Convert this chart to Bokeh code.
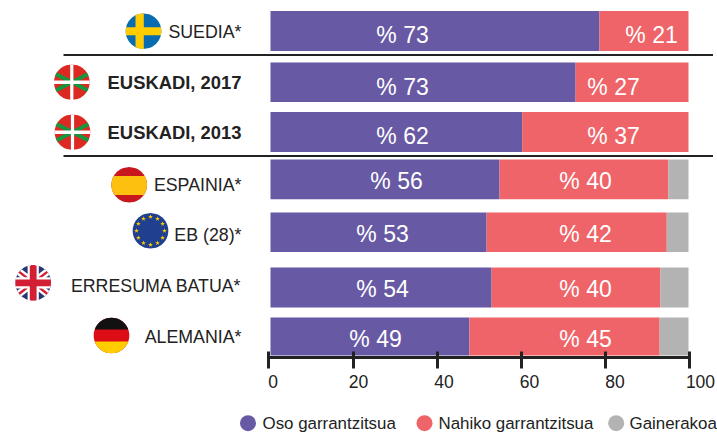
import numpy as np
from bokeh.plotting import figure
from bokeh.models import Range1d, LinearAxis, ColumnDataSource, FixedTicker
from bokeh.core.properties import value
from bokeh.embed import file_html
from bokeh.resources import INLINE

# ---- data
countries = ["SUEDIA*", "EUSKADI, 2017", "EUSKADI, 2013", "ESPAINIA*", "EB (28)*", "ERRESUMA BATUA*", "ALEMANIA*"]
oso = [78.7, 73.0, 60.2, 54.8, 51.7, 52.9, 47.6]
nahiko = [21.3, 27.0, 39.8, 40.4, 43.1, 40.4, 45.5]
gainerakoa = [0, 0, 0, 4.8, 5.2, 6.7, 6.9]
oso_labels = [73, 73, 62, 56, 53, 54, 49]
nahiko_labels = [21, 27, 37, 40, 42, 40, 45]
series_names = ["Oso garrantzitsua", "Nahiko garrantzitsua", "Gainerakoa"]
ticks = [0, 20, 40, 60, 80, 100]

# ---- style / layout (page pixels)
PURPLE, RED, GREY = "#6759A3", "#EE6468", "#B3B3B3"
INK = "#222222"
FONT = value("Liberation Sans")
W, H = 717, 433
O = 0
row_top = [10.5, 62, 111.5, 159, 212, 267, 317]
row_bot = [50.5, 101.5, 151.5, 198.7, 251.5, 307, 355]
label_y = [31, 82, 132, 184, 234, 285, 336]
oso_x = [402, 402, 402, 396, 382, 382, 375]
nah_x = [651, 613, 613, 585, 585, 585, 585]
val_y = [34, 86, 135, 180, 233, 288, 338]

p = figure(width=W, height=H, output_backend="svg", toolbar_location=None,
           x_range=Range1d(O, O + W), y_range=Range1d(O + H, O),
           x_axis_type=None, y_axis_type=None, min_border=0,
           outline_line_color=None, background_fill_color="white")
p.grid.visible = False

def to_range(px0, v0, px1, v1):
    s = (v1 - v0) / (px1 - px0)
    return Range1d(v0 + (O - px0) * s, v0 + (O + W - px0) * s)

p.extra_x_ranges = {
    "bars": to_range(270, 0, 688, 100),
    "axis": to_range(268.4, 0, 689.4, 100),
    "axislabels": to_range(272.5, 0, 700, 100),
}

# ---- bars
y_c = [(a + b) / 2 for a, b in zip(row_top, row_bot)]
h = [b - a for a, b in zip(row_top, row_bot)]
left = np.zeros(7)
for vals, col in zip((oso, nahiko, gainerakoa), (PURPLE, RED, GREY)):
    right = left + np.array(vals)
    src = ColumnDataSource(dict(y=y_c, h=h, left=left, right=right))
    p.hbar(y="y", height="h", left="left", right="right", source=src,
           fill_color=col, line_color=None, x_range_name="bars")
    left = right

# ---- value labels
p.text(oso_x, val_y, text=[f"% {v}" for v in oso_labels], text_color="white", text_font=FONT,
       text_font_size="23px", text_align="center", text_baseline="middle")
p.text(nah_x, val_y, text=[f"% {v}" for v in nahiko_labels], text_color="white", text_font=FONT,
       text_font_size="23px", text_align="center", text_baseline="middle")

# ---- row labels
for i, c in enumerate(countries):
    bold = "EUSKADI" in c
    p.text([241], [label_y[i]], text=[c], text_color=INK, text_font=FONT,
           text_font_size="18.4px" if bold else "17.8px",
           text_align="right", text_baseline="middle",
           text_font_style="bold" if bold else "normal")

# ---- separators
p.segment([63, 63], [54.5, 155.5], [712.5, 712.5], [54.5, 155.5], line_color=INK, line_width=2)

# ---- flags
def band(cx, cy, r, ang, lo, hi):
    lo, hi = max(lo, -r), min(hi, r)
    v = np.linspace(lo, hi, 40)
    u = np.sqrt(np.maximum(r * r - v * v, 0))
    uu = np.r_[u, -u[::-1]]
    vv = np.r_[v, v[::-1]]
    c, s = np.cos(ang), np.sin(ang)
    return cx + uu * c - vv * s, cy + uu * s + vv * c

def disc(cx, cy, r, col):
    x, y = band(cx, cy, r, 0, -r, r)
    p.patch(x, y, fill_color=col, line_color=None)

def stripe(cx, cy, r, ang, lo, hi, col):
    x, y = band(cx, cy, r, ang, lo, hi)
    p.patch(x, y, fill_color=col, line_color=None)

R = 17.8
# Sweden
cx, cy = 143, 30.7
disc(cx, cy, R, "#0A6CB0")
stripe(cx, cy, R, 0, -4, 4, "#FFCC00")
stripe(cx, cy, R, np.pi / 2, -0.3, 8, "#FFCC00")

# Ikurrina
for cx, cy in [(71.3, 81.7), (72, 131.7)]:
    disc(cx, cy, R, "#DC2A22")
    stripe(cx, cy, R, np.radians(27), -2, 2, "#16963F")
    stripe(cx, cy, R, -np.radians(27), -2, 2, "#16963F")
    stripe(cx, cy, R, 0, -1.8, 1.8, "white")
    stripe(cx, cy, R, np.pi / 2, -1.6, 1.6, "white")

# Spain
cx, cy = 128.7, 184.3
disc(cx, cy, R, "#C8161E")
stripe(cx, cy, R, 0, -8.7, 10.3, "#FDC00F")

# EU
cx, cy = 150, 230.3
disc(cx, cy, R, "#213F8F")
ang = np.arange(12) * np.pi / 6
p.scatter(cx + 14 * np.cos(ang), cy + 14 * np.sin(ang), marker="star", size=5,
          fill_color="#FFCC00", line_color=None)

# UK
cx, cy = 32.7, 282.3
disc(cx, cy, R, "#27376F")
stripe(cx, cy, R, np.radians(38), -3.6, 3.6, "white")
stripe(cx, cy, R, -np.radians(38), -3.6, 3.6, "white")
stripe(cx, cy, R, np.radians(38), -1.2, 1.2, "#D21F33")
stripe(cx, cy, R, -np.radians(38), -1.2, 1.2, "#D21F33")
stripe(cx, cy, R, 0, -5.6, 5.6, "white")
stripe(cx, cy, R, np.pi / 2, -5.6, 5.6, "white")
stripe(cx, cy, R, 0, -3.4, 3.4, "#D21F33")
stripe(cx, cy, R, np.pi / 2, -3.4, 3.4, "#D21F33")

# Germany
cx, cy = 111, 335
disc(cx, cy, R, "#DD0D15")
stripe(cx, cy, R, 0, -18, -6, "#111111")
stripe(cx, cy, R, 0, 6, 18, "#FFCC00")

# ---- axis
ax = LinearAxis(x_range_name="axis", ticker=FixedTicker(ticks=ticks), fixed_location=356.7,
                bounds=(0, 100),
                axis_line_color=INK, axis_line_width=3, major_tick_line_color=INK,
                major_tick_line_width=3, major_tick_in=6, major_tick_out=11,
                minor_tick_line_color=None, major_label_overrides={t: "" for t in ticks})
p.add_layout(ax, "below")
ax2 = LinearAxis(x_range_name="axislabels", ticker=FixedTicker(ticks=ticks), fixed_location=356.7,
                 axis_line_color=None, major_tick_line_color=None, minor_tick_line_color=None,
                 major_label_standoff=12, major_label_text_font_size="17.5px",
                 major_label_text_font="Liberation Sans", major_label_text_color=INK)
p.add_layout(ax2, "below")

# ---- legend
leg_cx = [247.5, 424, 615.7]
leg_tx = [262, 438, 629]
p.scatter(leg_cx, [422.7] * 3, marker="circle", size=16, fill_color=[PURPLE, RED, GREY], line_color=None)
p.text(leg_tx, [423] * 3, text=series_names, text_color=INK, text_font=FONT, text_font_size="16.9px",
       text_align="left", text_baseline="middle")

open("out.html", "w").write(file_html(p, INLINE))
